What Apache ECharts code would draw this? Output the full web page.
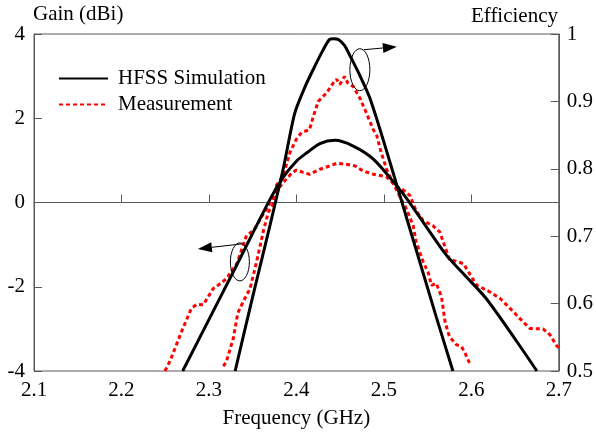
<!DOCTYPE html>
<html>
<head>
<meta charset="utf-8">
<script src="https://cdn.jsdelivr.net/npm/echarts@6/dist/echarts.min.js"></script>
<style>
html,body{margin:0;padding:0;background:#fff;}
#chart{width:596px;height:434px;}
</style>
</head>
<body>
<div id="chart"></div>
<script>
// ---- data ----
var xTicks = ['2.1','2.2','2.3','2.4','2.5','2.6','2.7'];
var gainTicks = ['-4','-2','0','2','4'];
var effTicks = ['0.5','0.6','0.7','0.8','0.9','1'];

var simGainFreq = [2.27, 2.30, 2.33, 2.37, 2.385, 2.40, 2.412, 2.427, 2.444, 2.465, 2.488, 2.5145, 2.526, 2.55, 2.572, 2.595, 2.617, 2.652, 2.675];
var simGainVal  = [-4, -2.78, -1.56, 0.08, 0.6, 0.98, 1.18, 1.40, 1.475, 1.34, 1.03, 0.40, 0.1, -0.62, -1.26, -1.78, -2.28, -3.3, -4];

var simEffFreq = [2.33, 2.35, 2.37, 2.385, 2.398, 2.41, 2.421, 2.43, 2.438, 2.443, 2.448, 2.455, 2.462, 2.472, 2.484, 2.50, 2.515, 2.53, 2.545, 2.56, 2.579];
var simEffVal  = [0.50, 0.61, 0.717, 0.80, 0.882, 0.922, 0.952, 0.975, 0.992, 0.993, 0.992, 0.983, 0.966, 0.940, 0.905, 0.840, 0.775, 0.71, 0.645, 0.58, 0.50];

var measGainFreq = [2.2497, 2.2554, 2.2688, 2.280, 2.286, 2.2935, 2.305, 2.3107, 2.320, 2.332, 2.343, 2.351, 2.360, 2.370, 2.378, 2.387, 2.394, 2.400, 2.407, 2.415, 2.427, 2.437, 2.446, 2.457, 2.467, 2.476, 2.488, 2.503, 2.5145, 2.522, 2.530, 2.537, 2.545, 2.556, 2.564, 2.575, 2.591, 2.606, 2.621, 2.633, 2.648, 2.659, 2.667, 2.682, 2.690, 2.697, 2.700];
var measGainVal  = [-4, -3.77, -3.06, -2.51, -2.42, -2.43, -2.04, -1.96, -1.81, -1.45, -0.78, -0.67, -0.35, 0.0, 0.3, 0.52, 0.68, 0.77, 0.72, 0.67, 0.79, 0.86, 0.93, 0.91, 0.87, 0.75, 0.67, 0.61, 0.38, 0.30, 0.16, -0.2, -0.43, -0.55, -0.70, -1.35, -1.45, -1.96, -2.12, -2.28, -2.59, -2.83, -2.99, -3.00, -3.14, -3.38, -3.45];

var measEffFreq = [2.3165, 2.320, 2.328, 2.333, 2.340, 2.347, 2.3545, 2.362, 2.368, 2.3735, 2.377, 2.385, 2.3926, 2.400, 2.406, 2.415, 2.420, 2.425, 2.4345, 2.442, 2.446, 2.4497, 2.455, 2.459, 2.465, 2.4726, 2.480, 2.488, 2.492, 2.497, 2.503, 2.510, 2.518, 2.526, 2.5335, 2.537, 2.545, 2.551, 2.5545, 2.560, 2.566, 2.570, 2.575, 2.583, 2.589, 2.593, 2.598];
var measEffVal  = [0.507, 0.514, 0.549, 0.586, 0.605, 0.622, 0.662, 0.706, 0.736, 0.748, 0.775, 0.79, 0.824, 0.844, 0.854, 0.858, 0.88, 0.900, 0.9125, 0.927, 0.933, 0.925, 0.937, 0.927, 0.922, 0.905, 0.883, 0.858, 0.849, 0.824, 0.80, 0.78, 0.76, 0.74, 0.716, 0.691, 0.662, 0.645, 0.627, 0.630, 0.610, 0.573, 0.551, 0.539, 0.536, 0.526, 0.512];

function zip(a, b) { return a.map(function (v, i) { return [v, b[i]]; }); }

var FONT = 'Liberation Serif';
var FS = 21;
var AXC = '#5a5a5a';

var chart = echarts.init(document.getElementById('chart'), null, {renderer: 'canvas'});

var axisCommon = {
  axisLine: {show: true, lineStyle: {color: AXC, width: 1}},
  axisTick: {show: true, inside: true, length: 8, lineStyle: {color: AXC, width: 1}},
  splitLine: {show: false},
  axisLabel: {color: '#000', fontFamily: FONT, fontSize: FS, margin: 8}
};

var option = {
  animation: false,
  backgroundColor: '#fff',
  textStyle: {fontFamily: FONT},
  grid: {left: 34, right: 37, top: 34, bottom: 61, show: true, borderColor: AXC, borderWidth: 1, containLabel: false},
  legend: {
    left: 58, top: 68, orient: 'vertical', padding: 0, itemWidth: 49, itemHeight: 14, itemGap: 5,
    itemStyle: {opacity: 0},
    textStyle: {fontFamily: FONT, fontSize: FS, color: '#000', padding: [0, 0, 0, 5]},
    data: ['HFSS Simulation', 'Measurement']
  },
  xAxis: Object.assign({}, axisCommon, {
    type: 'value', min: 2.1, max: 2.7, interval: 0.1,
    axisLabel: Object.assign({}, axisCommon.axisLabel, {margin: 9, formatter: function (v) {
      var i = Math.round((v - 2.1) / 0.1); return xTicks[i] !== undefined ? xTicks[i] : '';
    }}),
    name: 'Frequency (GHz)', nameLocation: 'middle', nameGap: 37,
    nameTextStyle: {fontFamily: FONT, fontSize: FS, color: '#000'}
  }),
  yAxis: [
    Object.assign({}, axisCommon, {
      type: 'value', min: -4, max: 4, interval: 2, position: 'left',
      axisLabel: Object.assign({}, axisCommon.axisLabel, {margin: 9, formatter: function (v) {
        var i = Math.round((v + 4) / 2); return gainTicks[i] !== undefined ? gainTicks[i] : '';
      }})
    }),
    Object.assign({}, axisCommon, {
      type: 'value', min: 0.5, max: 1, interval: 0.1, position: 'right',
      axisLabel: Object.assign({}, axisCommon.axisLabel, {margin: 8, formatter: function (v) {
        var i = Math.round((v - 0.5) / 0.1); return effTicks[i] !== undefined ? effTicks[i] : '';
      }})
    })
  ],
  graphic: [
    {type: 'text', left: 33, top: 4, style: {text: 'Gain (dBi)', fontFamily: FONT, fontSize: FS, fill: '#000'}},
    {type: 'text', right: 38, top: 6, style: {text: 'Efficiency', fontFamily: FONT, fontSize: FS, fill: '#000'}}
  ],
  series: [
    {name: 'HFSS Simulation', type: 'line', yAxisIndex: 0, data: zip(simGainFreq, simGainVal),
     symbol: 'none', smooth: 0.3, lineStyle: {color: '#000', width: 3}, itemStyle: {color: '#000'}, z: 3},
    {name: 'HFSS Simulation', type: 'line', yAxisIndex: 1, data: zip(simEffFreq, simEffVal),
     symbol: 'none', smooth: 0.25, lineStyle: {color: '#000', width: 3}, itemStyle: {color: '#000'}, z: 3},
    {name: 'Measurement', type: 'line', yAxisIndex: 0, data: zip(measGainFreq, measGainVal),
     symbol: 'none', smooth: false, lineStyle: {color: '#ff0000', width: 3, type: [4, 3]}, itemStyle: {color: '#ff0000'}, z: 2},
    {name: 'Measurement', type: 'line', yAxisIndex: 1, data: zip(measEffFreq, measEffVal),
     symbol: 'none', smooth: false, lineStyle: {color: '#ff0000', width: 3, type: [4, 3]}, itemStyle: {color: '#ff0000'}, z: 2}
  ]
};
chart.setOption(option);

// ---- annotations (ellipse + arrow), positioned via the axes ----
function arrow(x1, y1, x2, y2) {
  var dx = x2 - x1, dy = y2 - y1, L = Math.sqrt(dx * dx + dy * dy);
  var ux = dx / L, uy = dy / L, hl = 14, hw = 5;
  var bx = x2 - ux * hl, by = y2 - uy * hl;
  return [
    {type: 'line', shape: {x1: x1, y1: y1, x2: bx, y2: by}, style: {stroke: '#000', lineWidth: 1}, z: 10},
    {type: 'polygon', shape: {points: [[x2, y2], [bx - uy * hw, by + ux * hw], [bx + uy * hw, by - ux * hw]]}, style: {fill: '#000'}, z: 10}
  ];
}
var pR = chart.convertToPixel({xAxisIndex: 0, yAxisIndex: 1}, [2.4726, 0.947]);
var pL = chart.convertToPixel({xAxisIndex: 0, yAxisIndex: 0}, [2.3354, -1.41]);
var g = option.graphic.slice();
g.push({type: 'ellipse', shape: {cx: pR[0], cy: pR[1], rx: 10, ry: 21}, style: {fill: 'none', stroke: '#000', lineWidth: 1}, z: 10});
g = g.concat(arrow(pR[0] + 4, pR[1] - 20, pR[0] + 37, pR[1] - 23));
g.push({type: 'ellipse', shape: {cx: pL[0], cy: pL[1], rx: 9.5, ry: 19}, style: {fill: 'none', stroke: '#000', lineWidth: 1}, z: 10});
g = g.concat(arrow(pL[0] + 2, pL[1] - 18, pL[0] - 42, pL[1] - 13));
chart.setOption({graphic: g});
</script>
</body>
</html>
